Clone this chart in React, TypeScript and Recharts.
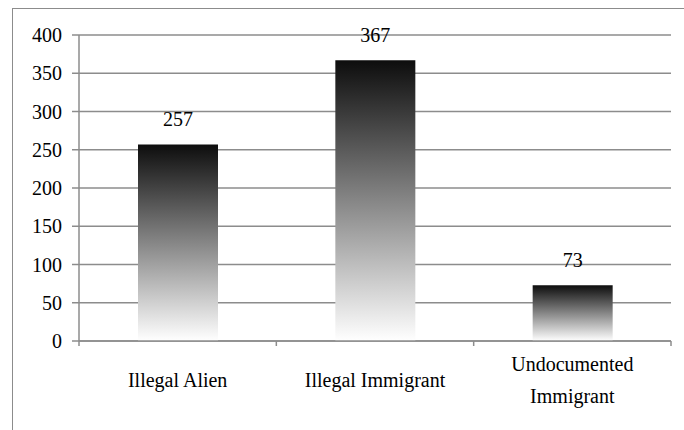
import React from "react";
import { BarChart, Bar, XAxis, YAxis, CartesianGrid, LabelList } from "recharts";

const categories = ["Illegal Alien", "Illegal Immigrant", "Undocumented Immigrant"];
const counts = [257, 367, 73];
const yTicks = [0, 50, 100, 150, 200, 250, 300, 350, 400];

const data = categories.map((c, i) => ({ name: c, value: counts[i] }));

const FONT = "Liberation Serif";
const GRID = "#8c8c8c";

const splitLabel = (s: string): string[] => {
  if (s.length <= 18) return [s];
  const idx = s.lastIndexOf(" ");
  return [s.slice(0, idx), s.slice(idx + 1)];
};

const CategoryTick = (props: any) => {
  const { x, y, payload, index } = props;
  const half = payload && payload.offset ? payload.offset : 592 / 3 / 2;
  const lines = splitLabel(String(payload.value));
  const lh = 32;
  const start = y + 39 - ((lines.length - 1) * lh) / 2;
  return (
    <g>
      <line x1={x - half} x2={x - half} y1={y} y2={y + 5} stroke={GRID} strokeWidth={1.5} />
      {index === categories.length - 1 && (
        <line x1={x + half} x2={x + half} y1={y} y2={y + 5} stroke={GRID} strokeWidth={1.5} />
      )}
      {lines.map((l, i) => (
        <text
          key={i}
          x={x}
          y={start + i * lh}
          textAnchor="middle"
          dominantBaseline="central"
          style={{ fontFamily: FONT, fontSize: 20 }}
          fill="#000"
        >
          {l}
        </text>
      ))}
    </g>
  );
};

const ValueLabel = (props: any) => {
  const { x, y, width, value } = props;
  return (
    <text
      x={x + width / 2}
      y={y - 25}
      textAnchor="middle"
      dominantBaseline="central"
      style={{ fontFamily: FONT, fontSize: 20 }}
      fill="#000"
    >
      {value}
    </text>
  );
};

export default function App() {
  return (
    <div style={{ position: "absolute", left: 0, top: 0, width: 684, height: 430, background: "#fff", overflow: "hidden", fontFamily: FONT }}>
      <div
        style={{
          position: "absolute",
          left: 12,
          top: 8,
          width: 700,
          height: 450,
          borderLeft: `1.5px solid ${GRID}`,
          borderTop: `1.5px solid ${GRID}`,
          boxSizing: "border-box",
        }}
      />
      <div style={{ position: "absolute", left: 0, top: 0 }}>
        <BarChart
          width={684}
          height={430}
          data={data}
          margin={{ top: 35, right: 13, bottom: 0, left: 0 }}
          style={{ fontFamily: FONT }}
        >
          <defs>
            <linearGradient id="barGrad" x1="0" y1="0" x2="0" y2="1">
              <stop offset="0%" stopColor="#0d0d0d" />
              <stop offset="100%" stopColor="#ffffff" />
            </linearGradient>
          </defs>
          <CartesianGrid vertical={false} stroke={GRID} strokeWidth={1.5} />
          <XAxis
            dataKey="name"
            axisLine={{ stroke: GRID, strokeWidth: 1.5 }}
            tickLine={false}
            tickSize={0}
            tickMargin={0}
            tick={<CategoryTick />}
            interval={0}
            height={89}
          />
          <YAxis
            domain={[0, 400]}
            ticks={yTicks}
            width={79}
            tickSize={7}
            tickMargin={10}
            axisLine={{ stroke: GRID, strokeWidth: 1.5 }}
            tickLine={{ stroke: GRID, strokeWidth: 1.5 }}
            tick={{ fontFamily: FONT, fontSize: 20, fill: "#000", style: { fontFamily: FONT } }}
            interval={0}
          />
          <Bar dataKey="value" fill="url(#barGrad)" barSize={80} isAnimationActive={false}>
            <LabelList dataKey="value" content={<ValueLabel />} />
          </Bar>
        </BarChart>
      </div>
    </div>
  );
}
